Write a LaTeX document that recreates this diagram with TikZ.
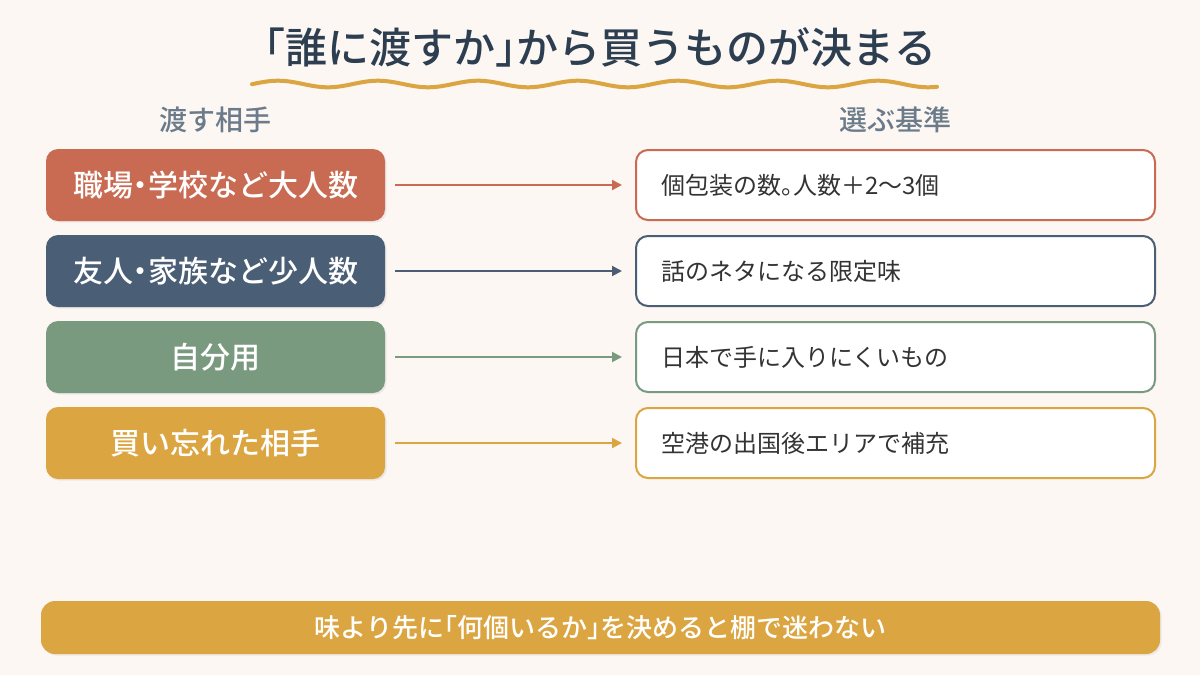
\documentclass[tikz,border=0pt]{standalone}
\usepackage{fontspec}
\setmainfont{Noto Sans CJK JP}[BoldFont={Noto Sans CJK JP Medium}, RawFeature=+halt]
\usetikzlibrary{arrows.meta,shadows}

\definecolor{bgcream}{HTML}{FCF7F3}
\definecolor{titleink}{HTML}{2C3E50}
\definecolor{headgray}{HTML}{6B7B8A}
\definecolor{bodyink}{HTML}{333333}
\definecolor{terracotta}{HTML}{C96B52}
\definecolor{slate}{HTML}{4A5E75}
\definecolor{sage}{HTML}{7A9A80}
\definecolor{mustard}{HTML}{DBA542}

\tikzset{
  whobox/.style={fill=#1, rounded corners=6pt, minimum width=169.5pt, minimum height=36pt,
    text=white, font=\bfseries\fontsize{15}{18}\selectfont,
    drop shadow={shadow xshift=0.8pt, shadow yshift=-0.8pt, opacity=0.12}},
  whatbox/.style={draw=#1, line width=1pt, fill=white, rounded corners=6pt, minimum height=35pt,
    text width=234.5pt, inner xsep=12.5pt, align=left, text=bodyink,
    font=\fontsize{12}{14}\selectfont},
  link/.style={draw=#1, line width=1pt, -{Triangle[length=5pt,width=5pt]}},
  headline/.style={text=headgray, font=\bfseries\fontsize{14}{16}\selectfont},
}

\begin{document}
\begin{tikzpicture}[x=0.5pt,y=-0.5pt]
  \fill[bgcream] (0,0) rectangle (1200,675);
  \useasboundingbox (0,0) rectangle (1200,675);

  \node[text=titleink, font=\bfseries\fontsize{21}{25}\selectfont] (title) at (600,47) {「誰に渡すか」から買うものが決まる};
  \draw[mustard, line width=2pt, line cap=round, domain=252:937, samples=160, smooth]
    plot (\x, {84-3.3*sin((\x-253)*3.6)});

  \node[headline] (givehead) at (215.5,120) {渡す相手};
  \node[headline] (pickhead) at (895.5,120) {選ぶ基準};

  \node[whobox=terracotta] (who1) at (215.5,185) {職場・学校など大人数};
  \node[whobox=slate] (who2) at (215.5,271) {友人・家族など少人数};
  \node[whobox=sage] (who3) at (215.5,357) {自分用};
  \node[whobox=mustard] (who4) at (215.5,443) {買い忘れた相手};

  \node[whatbox=terracotta] (what1) at (895.5,185) {個包装の数。人数＋2〜3個};
  \node[whatbox=slate] (what2) at (895.5,271) {話のネタになる限定味};
  \node[whatbox=sage] (what3) at (895.5,357) {日本で手に入りにくいもの};
  \node[whatbox=mustard] (what4) at (895.5,443) {空港の出国後エリアで補充};

  \draw[link=terracotta] ([xshift=5pt]who1.east) -- ([xshift=-6.5pt]what1.west);
  \draw[link=slate] ([xshift=5pt]who2.east) -- ([xshift=-6.5pt]what2.west);
  \draw[link=sage] ([xshift=5pt]who3.east) -- ([xshift=-6.5pt]what3.west);
  \draw[link=mustard] ([xshift=5pt]who4.east) -- ([xshift=-6.5pt]what4.west);

  \node[fill=mustard, rounded corners=7pt, minimum width=559.5pt, minimum height=26.5pt,
    text=white, font=\bfseries\fontsize{13}{15}\selectfont,
    drop shadow={shadow xshift=0.8pt, shadow yshift=-0.8pt, opacity=0.12}]
    (tip) at (600.5,627.5) {味より先に「何個いるか」を決めると棚で迷わない};
\end{tikzpicture}
\end{document}
